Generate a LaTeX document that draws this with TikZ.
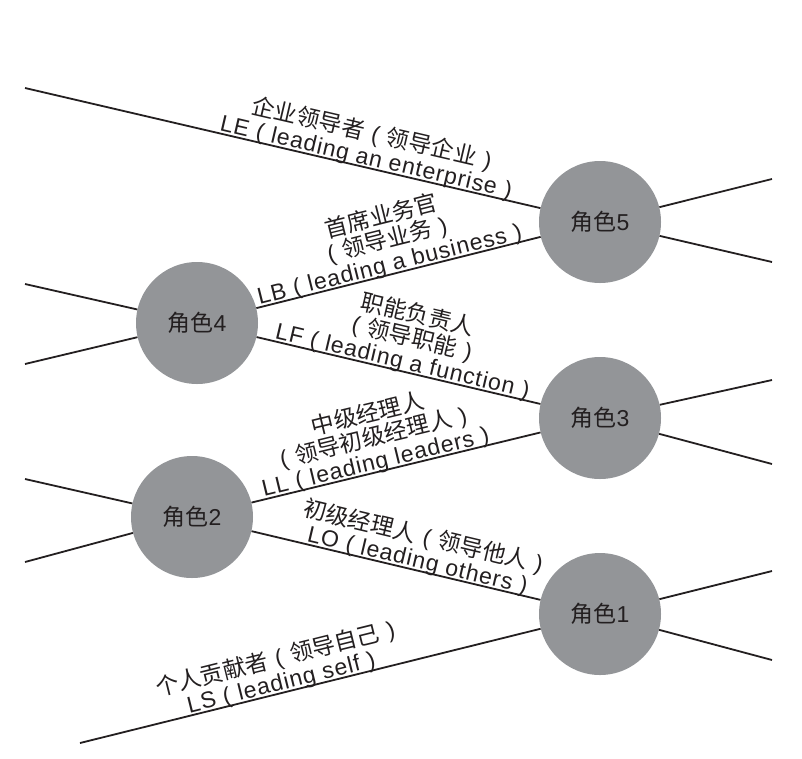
\documentclass[tikz,border=0pt]{standalone}
\usepackage{fontspec}
\setmainfont{Liberation Sans}[LetterSpace=4]
\newfontfamily\cjk{Noto Sans CJK SC}
\newcommand\zh[1]{{\cjk #1}}
\newcommand\lp{\makebox[1em][c]{(}}
\newcommand\rp{\makebox[1em][c]{)}}
\newcommand\labfont{\fontsize{23}{24}\selectfont\lineskiplimit=-50pt\relax}
\definecolor{rolegray}{HTML}{939598}
\definecolor{ink}{HTML}{231F20}
\begin{document}
\begin{tikzpicture}[x=1pt,y=-1pt,
  role/.style={circle, fill=rolegray, minimum size=122pt, inner sep=0pt, text=ink,
    font=\fontsize{23}{23}\selectfont},
  link/.style={draw=ink, line width=1.8pt},
  lab/.style={sloped, anchor=south, inner sep=0pt, align=center, text=ink,
    font=\labfont, yshift=-3pt}
]
\useasboundingbox (0,0) rectangle (802,758);

% roles
\node[role] (c5) at (600,222) {\zh{角色}5};
\node[role] (c4) at (197,323) {\zh{角色}4};
\node[role] (c3) at (600,418) {\zh{角色}3};
\node[role] (c2) at (192,517) {\zh{角色}2};
\node[role] (c1) at (600,614) {\zh{角色}1};

% free ends
\coordinate (e5) at (25,88);
\coordinate (r5a) at (772,179);
\coordinate (r5b) at (772,262);
\coordinate (l4a) at (25,284);
\coordinate (l4b) at (25,364);
\coordinate (r3a) at (772,380);
\coordinate (r3b) at (772,464);
\coordinate (l2a) at (25,479);
\coordinate (l2b) at (25,562);
\coordinate (r1a) at (772,571);
\coordinate (r1b) at (772,660);
\coordinate (s1) at (80,743);

% side lines
\draw[link] (c5) -- (r5a);
\draw[link] (c5) -- (r5b);
\draw[link] (l4a) -- (c4);
\draw[link] (l4b) -- (c4);
\draw[link] (c3) -- (r3a);
\draw[link] (c3) -- (r3b);
\draw[link] (l2a) -- (c2);
\draw[link] (l2b) -- (c2);
\draw[link] (c1) -- (r1a);
\draw[link] (c1) -- (r1b);

% labelled connectors
\draw[link] (e5) -- (c5) node[lab,pos=0.665]
  {\zh{企业领导者}\lp\zh{领导企业}\rp\\LE\lp leading an enterprise\rp};
\draw[link] (c4) -- (c5) node[lab,pos=0.49]
  {\zh{首席业务官}\\\lp\zh{领导业务}\rp\\LB\lp leading a business\rp};
\draw[link] (c4) -- (c3) node[lab,pos=0.52]
  {\zh{职能负责人}\\\lp\zh{领导职能}\rp\\LF\lp leading a function\rp};
\draw[link] (c2) -- (c3) node[lab,pos=0.45]
  {\zh{中级经理人}\\\lp\zh{领导初级经理人}\rp\\LL\lp leading leaders\rp};
\draw[link] (c2) -- (c1) node[lab,pos=0.58]
  {\zh{初级经理人}\lp\zh{领导他人}\rp\\LO\lp leading others\rp};
\draw[link] (s1) -- (c1) node[lab,pos=0.45]
  {\zh{个人贡献者}\lp\zh{领导自己}\rp\\LS\lp leading self\rp};
\end{tikzpicture}
\end{document}
